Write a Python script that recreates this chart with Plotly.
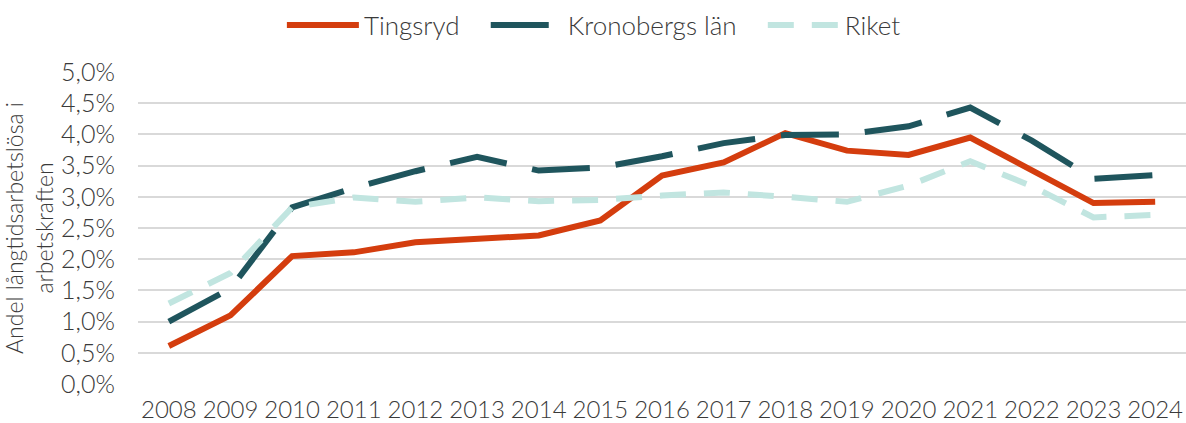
import plotly.graph_objects as go

years = [str(y) for y in range(2008, 2025)]
tingsryd = [0.0061, 0.0110, 0.0205, 0.0211, 0.0227, 0.0232, 0.0238, 0.0262, 0.0334, 0.0355, 0.0402, 0.0374, 0.0367, 0.0395, 0.0343, 0.0290, 0.0292]
kronoberg = [0.0100, 0.0153, 0.0283, 0.0314, 0.0341, 0.0364, 0.0342, 0.0347, 0.0365, 0.0386, 0.0399, 0.0400, 0.0413, 0.0443, 0.0390, 0.0329, 0.0335]
riket = [0.0129, 0.0178, 0.0283, 0.0299, 0.0292, 0.0299, 0.0293, 0.0295, 0.0302, 0.0307, 0.0300, 0.0292, 0.0318, 0.0357, 0.0317, 0.0267, 0.0271]
names = ["Tingsryd", "Kronobergs län", "Riket"]

FONT = "Lato"
TXT = "#3a3a3a"
PAD = "\u00a0" * 3

fig = go.Figure()
fig.add_trace(go.Scatter(x=years, y=tingsryd, name=names[0] + PAD, mode="lines",
                         line=dict(color="#d43d0e", width=6)))
fig.add_trace(go.Scatter(x=years, y=kronoberg, name=names[1] + PAD, mode="lines",
                         line=dict(color="#1f555d", width=6, dash="58px,26px")))
fig.add_trace(go.Scatter(x=years, y=riket, name=names[2], mode="lines",
                         line=dict(color="#c1e5e0", width=6, dash="26px,18px")))

fig.update_layout(
    width=1186, height=423,
    margin=dict(l=138, r=0, t=72, b=39, autoexpand=False),
    paper_bgcolor="white", plot_bgcolor="white",
    separators=", ",
    font=dict(family=FONT, size=23, color=TXT, weight=300),
    legend=dict(orientation="h", x=0.435, xanchor="center", y=1.15, yref="paper",
                yanchor="middle", font=dict(size=26, color=TXT, family=FONT, weight=300),
                itemwidth=72, traceorder="normal", bgcolor="rgba(0,0,0,0)"),
    showlegend=True,
)
fig.update_xaxes(type="category", range=[-0.5, 16.5], showgrid=False, showline=False,
                 zeroline=False, ticks="",
                 tickfont=dict(size=24, color=TXT, family=FONT, weight=300),
                 ticklabelstandoff=9)
fig.update_yaxes(range=[0, 0.05], dtick=0.005, tickformat=".1%",
                 showgrid=True, gridcolor="#d9d9d9", gridwidth=1.5,
                 zeroline=False, showline=False, ticks="",
                 ticklabelstandoff=22,
                 tickfont=dict(size=25, color=TXT, family=FONT, weight=300),
                 title=dict(text="Andel långtidsarbetslösa i<br>arbetskraften",
                            font=dict(size=23, color=TXT, family=FONT, weight=300),
                            standoff=10))

fig.write_html("out.html", post_script="document.body.style.margin='0';",
               config={"displayModeBar": False})
